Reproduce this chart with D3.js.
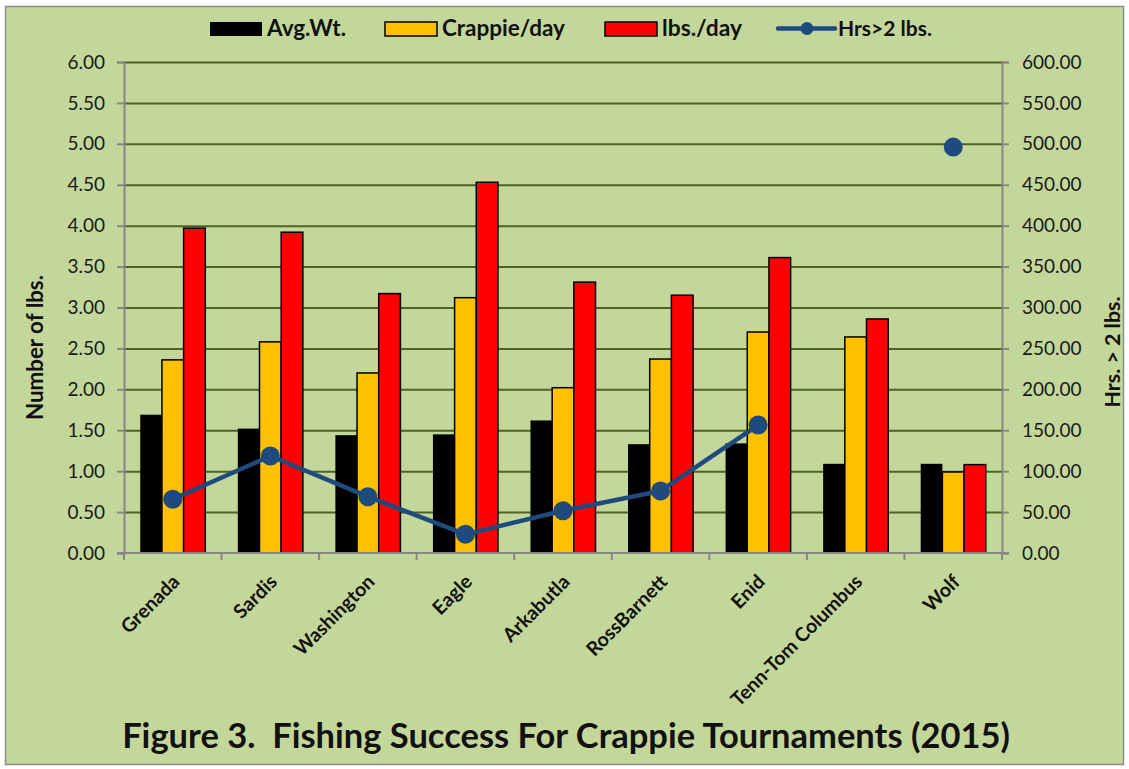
<!DOCTYPE html>
<html>
<head>
<meta charset="utf-8">
<script src="https://cdn.jsdelivr.net/npm/d3@7"></script>
<style>
  html, body { margin: 0; padding: 0; background: #ffffff; }
  svg { display: block; }
  text { font-family: Lato, "Open Sans", "DejaVu Sans", sans-serif; }
</style>
</head>
<body>
<svg id="chart" width="1129" height="769"></svg>
<script>
// ---- data ----
const categories = ["Grenada", "Sardis", "Washington", "Eagle", "Arkabutla", "RossBarnett", "Enid", "Tenn-Tom Columbus", "Wolf"];
const avgWt      = [1.69, 1.52, 1.44, 1.45, 1.62, 1.33, 1.34, 1.09, 1.09];
const crappieDay = [2.36, 2.58, 2.20, 3.12, 2.02, 2.37, 2.70, 2.64, 0.99];
const lbsDay     = [3.97, 3.92, 3.17, 4.53, 3.31, 3.15, 3.61, 2.86, 1.08];
const hrsOver2   = [65.6, 118.5, 68.8, 22.8, 51.7, 75.8, 156.4, null, 496];
const leftTicks  = [0, 0.5, 1, 1.5, 2, 2.5, 3, 3.5, 4, 4.5, 5, 5.5, 6];
const rightTicks = [0, 50, 100, 150, 200, 250, 300, 350, 400, 450, 500, 550, 600];
const seriesNames = ["Avg.Wt.", "Crappie/day", "lbs./day"];
const lineName = "Hrs>2 lbs.";
const titleText = "Figure 3.  Fishing Success For Crappie Tournaments (2015)";

// ---- layout ----
const svg = d3.select("#chart");
const plot = { left: 124, right: 1002, top: 62, bottom: 553 };
const colors = { "Avg.Wt.": "#000000", "Crappie/day": "#ffc000", "lbs./day": "#ff0000" };
const lineColor = "#1f4a7e";

function fitText(sel, base, target) {
  sel.attr("font-size", base);
  const w = sel.node().getComputedTextLength();
  sel.attr("font-size", base * target / w);
}

// background + border
svg.append("rect").attr("x", 5.5).attr("y", 6.5).attr("width", 1118).attr("height", 758)
  .attr("fill", "#c4d79b").attr("stroke", "#8c8c8c").attr("stroke-width", 1.5);

const x = d3.scaleBand().domain(categories).range([plot.left, plot.right]).paddingInner(0).paddingOuter(0);
const groupW = x.bandwidth() / 1.5;
const x1 = d3.scaleBand().domain(seriesNames).range([0, groupW]);
const y = d3.scaleLinear().domain([0, 6]).range([plot.bottom, plot.top]);
const y2 = d3.scaleLinear().domain([0, 600]).range([plot.bottom, plot.top]);

// gridlines
svg.append("g")
  .attr("transform", `translate(${plot.left},0)`)
  .call(d3.axisLeft(y).tickValues(leftTicks.slice(1)).tickSize(-(plot.right - plot.left)).tickFormat(""))
  .call(g => g.select(".domain").remove())
  .call(g => g.selectAll("line").attr("stroke", "#4f6228").attr("stroke-width", 2));

// bars
const seriesData = [avgWt, crappieDay, lbsDay];
seriesNames.forEach((name, si) => {
  svg.append("g").selectAll("rect")
    .data(categories.map((c, i) => ({ c, v: seriesData[si][i] })))
    .join("rect")
    .attr("x", d => x(d.c) + (x.bandwidth() - groupW) / 2 + x1(name))
    .attr("y", d => y(d.v))
    .attr("width", x1.bandwidth())
    .attr("height", d => y(0) - y(d.v))
    .attr("fill", colors[name])
    .attr("stroke", "#000")
    .attr("stroke-width", name === "Avg.Wt." ? 0 : 1.5);
});

// axes
const axisColor = "#868686";
const gl = svg.append("g").attr("transform", `translate(${plot.left},0)`)
  .call(d3.axisLeft(y).tickValues(leftTicks).tickFormat(d3.format(".2f")).tickSize(7).tickPadding(12));
const gr = svg.append("g").attr("transform", `translate(${plot.right},0)`)
  .call(d3.axisRight(y2).tickValues(rightTicks).tickFormat(d3.format(".2f")).tickSize(7).tickPadding(13));
const gb = svg.append("g").attr("transform", `translate(0,${plot.bottom})`)
  .call(d3.axisBottom(x).tickValues([]).tickSizeOuter(0));
[gl, gr].forEach(g => {
  g.select(".domain").attr("stroke", axisColor).attr("stroke-width", 2);
  g.selectAll(".tick line").attr("stroke", axisColor).attr("stroke-width", 2);
  g.selectAll(".tick text").attr("fill", "#1a1a1a").attr("font-size", 19)
    .style("font-family", "Lato, 'Open Sans', sans-serif");
});
gb.select(".domain").attr("stroke", axisColor).attr("stroke-width", 2).attr("d", `M${plot.left - 7},0H${plot.right + 7}`);
// category boundary ticks
const boundaries = categories.map(c => x(c)).concat([plot.right]);
gb.selectAll(".btick").data(boundaries).join("line")
  .attr("x1", d => d).attr("x2", d => d).attr("y1", 0).attr("y2", 7)
  .attr("stroke", axisColor).attr("stroke-width", 2);

// category labels
svg.append("g").selectAll("text").data(categories).join("text")
  .attr("transform", d => `translate(${x(d) + x.bandwidth() / 2 + 8},${plot.bottom + 30}) rotate(-45)`)
  .attr("text-anchor", "end")
  .attr("font-size", 19.5).attr("font-weight", "bold").attr("fill", "#111")
  .text(d => d);

// line series
const pts = categories.map((c, i) => ({ c, v: hrsOver2[i] }));
const line = d3.line().defined(d => d.v != null)
  .x(d => x(d.c) + x.bandwidth() / 2).y(d => y2(d.v));
svg.append("path").datum(pts).attr("d", line)
  .attr("fill", "none").attr("stroke", lineColor).attr("stroke-width", 4.5).attr("stroke-linejoin", "round");
svg.append("g").selectAll("circle").data(pts.filter(d => d.v != null)).join("circle")
  .attr("cx", d => x(d.c) + x.bandwidth() / 2).attr("cy", d => y2(d.v)).attr("r", 9.5)
  .attr("fill", lineColor);

// axis titles
const lt = svg.append("text").attr("transform", `translate(43,347.5) rotate(-90)`)
  .attr("text-anchor", "middle").attr("font-weight", "bold").attr("fill", "#111")
  .text("Number of lbs.");
fitText(lt, 18, 145);
const rt = svg.append("text").attr("transform", `translate(1120,352) rotate(-90)`)
  .attr("text-anchor", "middle").attr("font-weight", "bold").attr("fill", "#111")
  .text("Hrs. > 2 lbs.");
fitText(rt, 18, 111);

// legend
const legend = svg.append("g").attr("font-weight", "bold").attr("fill", "#111");
const legX = { "Avg.Wt.": 210, "Crappie/day": 385, "lbs./day": 605 };
const legW = { "Avg.Wt.": 79, "Crappie/day": 123, "lbs./day": 80 };
seriesNames.forEach(name => {
  legend.append("rect").attr("x", legX[name]).attr("y", 22).attr("width", 52).attr("height", 14)
    .attr("fill", colors[name]).attr("stroke", "#000").attr("stroke-width", name === "Avg.Wt." ? 0 : 1.5);
  const t = legend.append("text").attr("x", legX[name] + 57).attr("y", 36).text(name);
  fitText(t, 20, legW[name]);
});
legend.append("line").attr("x1", 778).attr("x2", 835).attr("y1", 28.5).attr("y2", 28.5)
  .attr("stroke", lineColor).attr("stroke-width", 4.5).attr("stroke-linecap", "round");
legend.append("circle").attr("cx", 807).attr("cy", 28.5).attr("r", 6.5).attr("fill", lineColor);
const lt2 = legend.append("text").attr("x", 838).attr("y", 36).text(lineName);
fitText(lt2, 20, 94);

// title
const title = svg.append("text").attr("x", 566).attr("y", 748).attr("text-anchor", "middle")
  .attr("font-weight", "bold").attr("fill", "#111").style("white-space", "pre").text(titleText);
fitText(title, 30, 888);
</script>
</body>
</html>
